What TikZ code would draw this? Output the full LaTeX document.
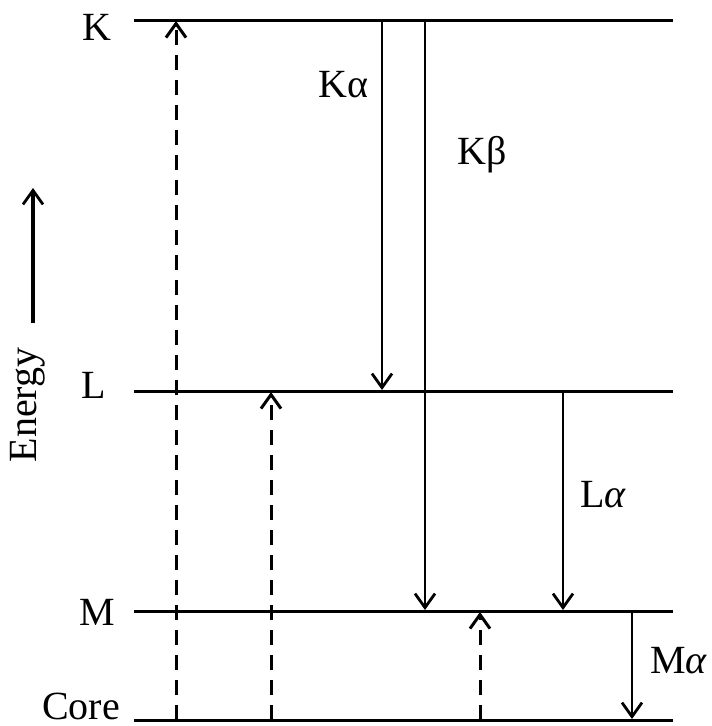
\documentclass[tikz,border=0pt]{standalone}
\usepackage{fontspec}
\setmainfont{Liberation Serif}
\usetikzlibrary{arrows.meta}
\begin{document}
\begin{tikzpicture}[x=1pt,y=-1pt,
  level/.style={line width=3pt},
  emit/.style={line width=2.8pt,-{Straight Barb[length=14pt,width=20pt,line width=2.8pt]}},
  excite/.style={line width=3pt,dash pattern=on 15pt off 10pt,-{Straight Barb[length=14pt,width=20pt,line width=3pt]}},
  lbl/.style={inner sep=0pt,font=\fontsize{40}{48}\selectfont}]
\useasboundingbox (0,0) rectangle (712,726);
% levels
\coordinate (K0) at (134,20);  \coordinate (K1) at (673,20);
\coordinate (L0) at (134,391); \coordinate (L1) at (673,391);
\coordinate (M0) at (134,611); \coordinate (M1) at (673,611);
\coordinate (C0) at (134,720); \coordinate (C1) at (673,720);
\draw[level] (K0) -- (K1);
\draw[level] (L0) -- (L1);
\draw[level] (M0) -- (M1);
\draw[level] (C0) -- (C1);
% level labels
\node[lbl,anchor=base] (kl) at (97,40) {K};
\node[lbl,anchor=base] (ll) at (94,398) {L};
\node[lbl,anchor=base] (ml) at (97,625) {M};
\node[lbl,anchor=base] (cl) at (81,719) {Core};
% excitations
\coordinate (e1s) at (176,720); \coordinate (e1e) at (176,21);
\coordinate (e2s) at (271,720); \coordinate (e2e) at (271,392);
\coordinate (e3s) at (480,720); \coordinate (e3e) at (480,612);
\draw[excite] (e1s) -- (e1e);
\draw[excite] (e2s) -- (e2e);
\draw[excite] (e3s) -- (e3e);
% emissions
\coordinate (ka0) at (382,20);  \coordinate (ka1) at (382,390);
\coordinate (kb0) at (425,20);  \coordinate (kb1) at (425,610);
\coordinate (la0) at (563,391); \coordinate (la1) at (563,610);
\coordinate (ma0) at (632,611); \coordinate (ma1) at (632,719);
\draw[emit] (ka0) -- (ka1);
\draw[emit] (kb0) -- (kb1);
\draw[emit] (la0) -- (la1);
\draw[emit] (ma0) -- (ma1);
\node[lbl,anchor=base west] (kal) at (318,97) {Kα};
\node[lbl,anchor=base west] (kbl) at (457,164) {Kβ};
\node[lbl,anchor=base west] (lal) at (580,507) {L\textit{α}};
\node[lbl,anchor=base west] (mal) at (650,673) {M\textit{α}};
% energy axis
\node[lbl,anchor=base,rotate=90] (en) at (36,405) {Energy};
\coordinate (ea0) at (33,323); \coordinate (ea1) at (33,188);
\draw[emit,line width=3.2pt] (ea0) -- (ea1);
\end{tikzpicture}
\end{document}
